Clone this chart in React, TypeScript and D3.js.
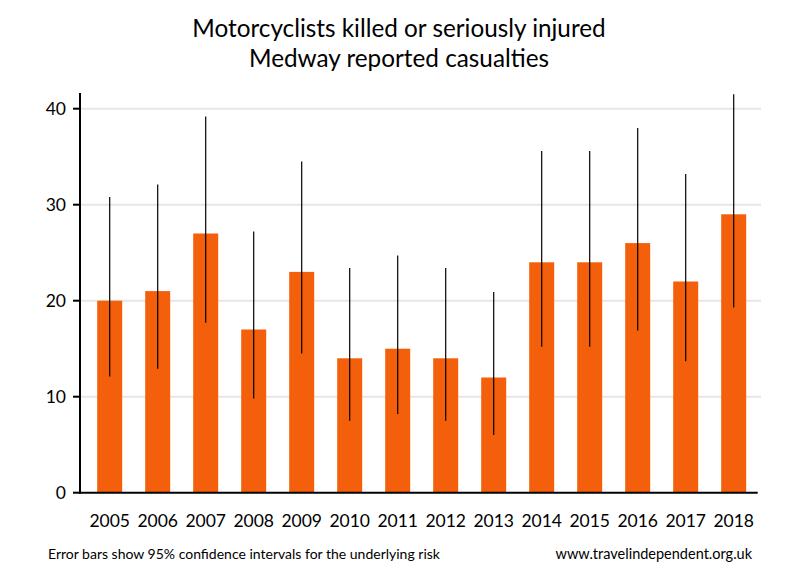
import React from "react";
import * as d3 from "d3";

const years = ["2005","2006","2007","2008","2009","2010","2011","2012","2013","2014","2015","2016","2017","2018"];
const casualties = [20, 21, 27, 17, 23, 14, 15, 14, 12, 24, 24, 26, 22, 29];
const ciLow = [12.1, 12.9, 17.7, 9.8, 14.5, 7.5, 8.2, 7.5, 6.0, 15.2, 15.2, 16.9, 13.7, 19.3];
const ciHigh = [30.8, 32.1, 39.2, 27.2, 34.5, 23.4, 24.7, 23.4, 20.9, 35.6, 35.6, 38.0, 33.2, 41.5];
const yTicks = [0, 10, 20, 30, 40];
const titleLines = ["Motorcyclists killed or seriously injured", "Medway reported casualties"];
const footLeft = "Error bars show 95% confidence intervals for the underlying risk";
const footRight = "www.travelindependent.org.uk";

const W = 800, H = 580;
const axisX = 80;
const plotRight = 761;
const font = "Lato, 'Open Sans', sans-serif";

export default function App() {
  const y = d3.scaleLinear().domain([0, 40]).range([492.7, 108.7]);
  const x = d3.scalePoint<string>().domain(years).range([85.7, 757.7]).padding(0.5);
  const barW = 25;
  const axisTop = 93;

  return (
    <svg width={W} height={H} style={{ position: "absolute", left: 0, top: 0, background: "#fff" }}>
      <rect x={0} y={0} width={W} height={H} fill="#fff" />
      {titleLines.map((t, i) => (
        <text key={t} x={399} y={37 + i * 30} textAnchor="middle" fontFamily={font} fontSize={24.3} fill="#000">{t}</text>
      ))}
      {yTicks.filter(t => t > 0).map(t => (
        <line key={"g" + t} x1={axisX} x2={plotRight} y1={y(t)} y2={y(t)} stroke="#e6e6e6" strokeWidth={2} />
      ))}
      {years.map((yr, i) => (
        <rect key={"b" + yr} x={(x(yr) as number) - barW / 2} y={y(casualties[i])} width={barW} height={y(0) - y(casualties[i])} fill="#f45f0c" />
      ))}
      {years.map((yr, i) => (
        <line key={"e" + yr} x1={x(yr) as number} x2={x(yr) as number} y1={y(ciLow[i])} y2={y(ciHigh[i])} stroke="#000" strokeWidth={1.2} />
      ))}
      <line x1={axisX} x2={axisX} y1={axisTop} y2={y(0) + 1} stroke="#000" strokeWidth={2} />
      <line x1={axisX - 1} x2={757.7} y1={y(0)} y2={y(0)} stroke="#000" strokeWidth={2} />
      {yTicks.map(t => (
        <g key={"t" + t}>
          <line x1={axisX - 7} x2={axisX} y1={y(t)} y2={y(t)} stroke="#000" strokeWidth={2} />
          <text x={66} y={y(t) + 6} textAnchor="end" fontFamily={font} fontSize={17.5} fill="#000">{t}</text>
        </g>
      ))}
      {years.map(yr => (
        <text key={"l" + yr} x={x(yr) as number} y={527} textAnchor="middle" fontFamily={font} fontSize={17.5} fill="#000">{yr}</text>
      ))}
      <text x={48} y={559} fontFamily={font} fontSize={14} fill="#000">{footLeft}</text>
      <text x={752} y={559} textAnchor="end" fontFamily={font} fontSize={14.5} fill="#000">{footRight}</text>
    </svg>
  );
}
